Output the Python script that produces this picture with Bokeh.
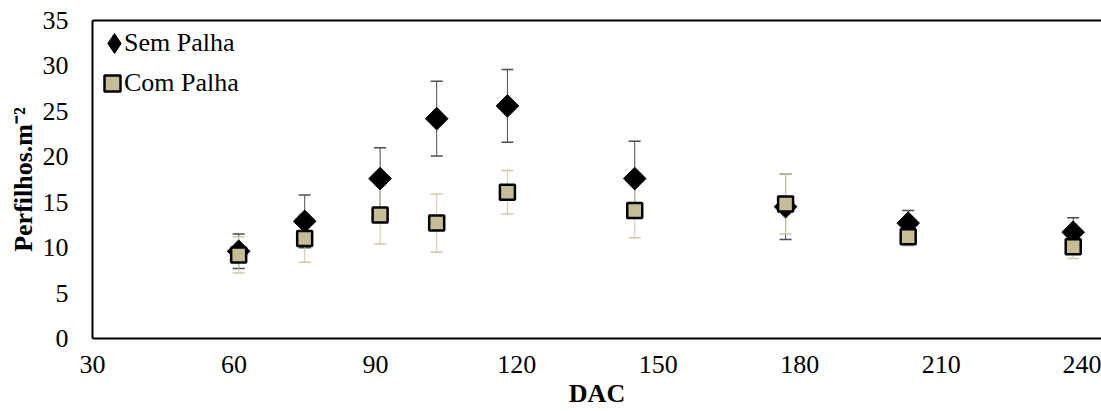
import numpy as np
from bokeh.plotting import figure
from bokeh.models import (Range1d, FixedTicker, Whisker, ColumnDataSource, TeeHead,
                          Legend, LegendItem, LinearAxis)
from bokeh.embed import file_html
from bokeh.resources import INLINE

# ---- data ----
dac = [61, 75, 91, 103, 118, 145, 177, 203, 238]
sem_palha = [9.6, 12.9, 17.6, 24.2, 25.6, 17.6, 14.5, 12.7, 11.7]
sem_err = [1.9, 2.9, 3.4, 4.1, 4.0, 4.1, 3.6, 1.4, 1.6]
com_palha = [9.2, 11.0, 13.6, 12.7, 16.1, 14.1, 14.8, 11.2, 10.1]
com_err = [2.0, 2.6, 3.2, 3.2, 2.4, 3.0, 3.3, 1.0, 1.3]
x_ticks = [30, 60, 90, 120, 150, 180, 210, 240]
y_ticks = [0, 5, 10, 15, 20, 25, 30, 35]
labels = ["Sem Palha", "Com Palha"]

FONT = "'Liberation Serif', 'Times New Roman', serif"
FS = "26px"
TAN = "#C4BD97"

s = np.array(sem_palha); se = np.array(sem_err)
c = np.array(com_palha); ce = np.array(com_err)
src_sem = ColumnDataSource(dict(x=dac, y=sem_palha, lo=s - se, hi=s + se))
src_com = ColumnDataSource(dict(x=dac, y=com_palha, lo=c - ce, hi=c + ce))

p = figure(width=1101, height=410, output_backend="svg", toolbar_location=None,
           x_range=Range1d(30, 244), y_range=Range1d(0, 35),
           min_border_left=92, min_border_right=0, min_border_top=20, min_border_bottom=70)
p.xgrid.visible = False
p.ygrid.visible = False
p.outline_line_color = None
p.background_fill_color = "white"
p.border_fill_color = "white"

for ax in (p.xaxis[0], p.yaxis[0]):
    ax.axis_line_color = "black"
    ax.axis_line_width = 2
    ax.major_tick_line_color = None
    ax.minor_tick_line_color = None
    ax.major_tick_out = 0
    ax.major_tick_in = 0
    ax.major_label_text_font = FONT
    ax.major_label_text_font_style = "normal"
    ax.major_label_text_font_size = FS
    ax.major_label_text_color = "black"
    ax.axis_label_text_font = FONT
    ax.axis_label_text_font_size = FS
    ax.axis_label_text_font_style = "bold"
    ax.axis_label_text_color = "black"

p.xaxis.ticker = FixedTicker(ticks=x_ticks)
p.yaxis.ticker = FixedTicker(ticks=y_ticks)
p.xaxis.axis_label = "DAC"
p.yaxis.axis_label = "Perfilhos.m⁻²"
p.xaxis.major_label_standoff = 17
p.xaxis.axis_label_standoff = 3
p.yaxis.major_label_standoff = 24
p.yaxis.axis_label_standoff = 2

top = LinearAxis(ticker=FixedTicker(ticks=[]), axis_line_color="black", axis_line_width=2,
                 major_tick_line_color=None, minor_tick_line_color=None,
                 major_label_text_font_size="0px")
p.add_layout(top, "above")

# error bars
w_sem = Whisker(source=src_sem, base="x", upper="hi", lower="lo", dimension="height",
                line_color="#4D4D4D", line_width=1,
                upper_head=TeeHead(size=12, line_color="#4D4D4D", line_width=1.5),
                lower_head=TeeHead(size=12, line_color="#4D4D4D", line_width=1.5))
w_com = Whisker(source=src_com, base="x", upper="hi", lower="lo", dimension="height",
                line_color="#CFC8A8", line_width=1,
                upper_head=TeeHead(size=12, line_color="#CFC8A8", line_width=1.5),
                lower_head=TeeHead(size=12, line_color="#CFC8A8", line_width=1.5))
p.add_layout(w_sem)
p.add_layout(w_com)

r_sem = p.scatter("x", "y", source=src_sem, marker="square", angle=np.pi / 4, size=16,
                  fill_color="black", line_color="black", line_width=1)
r_com = p.scatter("x", "y", source=src_com, marker="square", size=15,
                  fill_color=TAN, line_color="black", line_width=2.5)

# legend-only glyph for the diamond (zero size on the plot itself)
leg_sem = p.scatter("x", "y", source=src_sem, marker="diamond", size=0,
                    fill_color="black", line_color="black", line_width=1)

common = dict(orientation="vertical", padding=0, margin=0, spacing=0,
              background_fill_alpha=0, border_line_color=None,
              label_text_font=FONT, label_text_font_style="normal",
              label_text_font_size=FS, label_text_color="black")

# legend symbols
leg_a1 = Legend(items=[LegendItem(label=" ", renderers=[leg_sem])],
                location=(-3, 270), glyph_width=50, glyph_height=50, label_standoff=0,
                label_width=1, label_height=50, **common)
leg_a2 = Legend(items=[LegendItem(label=" ", renderers=[r_com])],
                location=(0, 235), glyph_width=40, glyph_height=40, label_standoff=0,
                label_width=1, label_height=40, **common)
# legend texts
leg_b = Legend(items=[LegendItem(label=labels[0], renderers=[leg_sem]),
                      LegendItem(label=labels[1], renderers=[r_com])],
               location=(32, 235), glyph_width=0, glyph_height=40, label_standoff=0,
               label_height=40, **common)
p.add_layout(leg_a1)
p.add_layout(leg_a2)
p.add_layout(leg_b)

open("out.html", "w").write(file_html(p, INLINE))
